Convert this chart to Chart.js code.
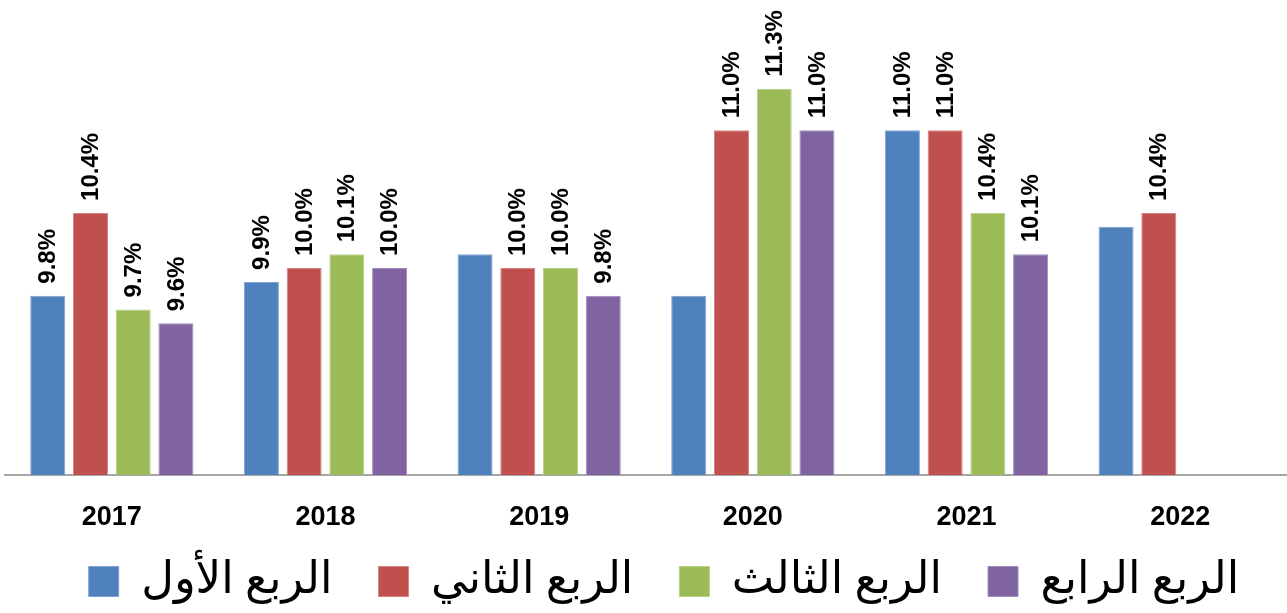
<!DOCTYPE html>
<html>
<head>
<meta charset="utf-8">
<script src="https://cdn.jsdelivr.net/npm/chart.js@4/dist/chart.umd.min.js"></script>
<style>
  body { margin: 0; background: #fff; }
  #wrap { width: 1287px; height: 613px; }
</style>
</head>
<body>
<div id="wrap"><canvas id="barChart" width="1287" height="613"></canvas></div>
<script>
var years = ['2017', '2018', '2019', '2020', '2021', '2022'];
var seriesNames = ['الربع الأول', 'الربع الثاني', 'الربع الثالث', 'الربع الرابع'];
var q1 = [9.8, 9.9, 10.1, 9.8, 11.0, 10.3];
var q2 = [10.4, 10.0, 10.0, 11.0, 11.0, 10.4];
var q3 = [9.7, 10.1, 10.0, 11.3, 10.4, null];
var q4 = [9.6, 10.0, 9.8, 11.0, 10.1, null];
// bars that carry no value label in the original [series, year]
var unlabeled = [[0, 2], [0, 3], [0, 5]];

var fills = ['#4F81BD', '#C0504D', '#9BBB59', '#8064A2'];
var edges = ['#7FA3D1', '#D48583', '#B8D08A', '#A08DBD'];

var valueLabels = {
    id: 'valueLabels',
    afterDatasetsDraw: function (chart) {
        var c = chart.ctx;
        c.save();
        c.fillStyle = '#000';
        c.font = 'bold 24px "Liberation Sans", Arial, sans-serif';
        c.textAlign = 'left';
        c.textBaseline = 'middle';
        chart.data.datasets.forEach(function (ds, di) {
            chart.getDatasetMeta(di).data.forEach(function (bar, i) {
                var v = ds.data[i];
                if (v === null) return;
                var skip = unlabeled.some(function (u) { return u[0] === di && u[1] === i; });
                if (skip) return;
                c.save();
                c.translate(bar.x + 1, bar.y - 12);
                c.rotate(-Math.PI / 2);
                c.fillText(v.toFixed(1) + '%', 0, 0);
                c.restore();
            });
        });
        c.restore();
    }
};

// pull the legend up and a bit right, it keeps its wide item spacing
var legendShift = {
    id: 'legendShift',
    afterLayout: function (chart) {
        var lg = chart.legend;
        lg.top -= 22; lg.bottom -= 22;
        lg.left += 18; lg.right += 18;
    }
};

var ctx = document.getElementById('barChart').getContext('2d');
var myChart = new Chart(ctx, {
    type: 'bar',
    data: {
        labels: years,
        datasets: [q1, q2, q3, q4].map(function (d, k) {
            return {
                label: seriesNames[k],
                data: d,
                backgroundColor: fills[k],
                borderColor: edges[k],
                borderWidth: 1,
                borderSkipped: 'bottom',
                categoryPercentage: 0.8,
                barPercentage: 0.82
            };
        })
    },
    options: {
        responsive: false,
        animation: false,
        layout: { padding: { top: 6, left: 5, right: 0, bottom: -23 } },
        scales: {
            x: {
                grid: { display: false, drawTicks: false },
                border: { display: true, color: '#A6A6A6', width: 2 },
                ticks: {
                    color: '#000',
                    padding: 26,
                    font: { family: '"Liberation Sans", Arial, sans-serif', size: 27, weight: 'bold' }
                },
                afterFit: function (scale) {
                    scale.height = 60;
                }
            },
            y: {
                display: false,
                min: 8.5,
                max: 11.9
            }
        },
        plugins: {
            legend: {
                position: 'bottom',
                labels: {
                    color: '#000',
                    boxWidth: 30,
                    boxHeight: 30,
                    padding: 46,
                    font: { family: '"Times New Roman", "Liberation Serif", "DejaVu Sans", serif', size: 45, lineHeight: 1 }
                }
            },
            tooltip: { enabled: false }
        }
    },
    plugins: [valueLabels, legendShift]
});
</script>
</body>
</html>
